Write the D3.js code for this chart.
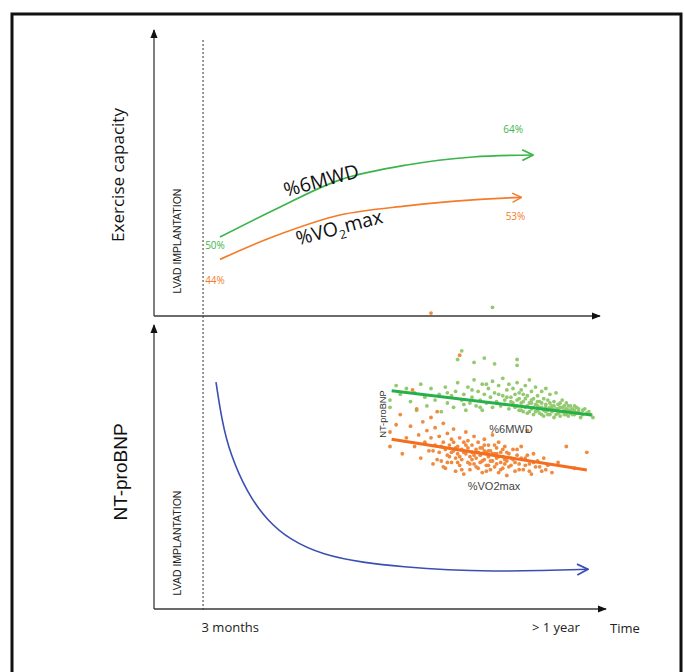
<!DOCTYPE html>
<html>
<head>
<meta charset="utf-8">
<script src="https://cdn.jsdelivr.net/npm/d3@7"></script>
<style>
  body { margin: 0; background: #fff; }
  text { font-family: "Open Sans", sans-serif; }
  .arial { font-family: "Liberation Sans", Arial, sans-serif; }
</style>
</head>
<body>
<div id="chart"></div>
<script>
// ---- data (schematic units 0-100) ----
var timeTicks = [11, 90];
var tickLabels = ["3 months", "> 1 year"];
var panelTitles = ["Exercise capacity", "NT-proBNP"];

var sixMwdCurve = [[14.8, 27.6], [28.3, 38.1], [41.7, 47.6], [56.7, 52.8], [71.5, 55.6], [85.0, 56.3]];
var vo2Curve = [[14.8, 19.8], [26.7, 27.7], [41.7, 35.3], [56.7, 38.5], [71.5, 40.6], [82.4, 41.5]];
var sixMwdPct = ["50%", "64%"];
var vo2Pct = ["44%", "53%"];

var ntCurve = [[13.9, 79.9], [15.2, 66.5], [17.0, 54.9], [20.9, 40.8], [25.3, 31.3], [30.5, 24.3],
  [37.9, 19.0], [46.9, 16.3], [56.0, 14.8], [66.0, 13.7], [76.0, 13.3], [86.5, 13.5], [97.3, 14.0]];

// inset scatter (NT-proBNP vs %6MWD / %VO2max)
var greenFit = [[0.8, 68.5], [98.4, 51.7]];
var orangeFit = [[0.8, 35.0], [96, 13.8]];
var greenDots = [
  [35, 96], [33, 90], [41, 88], [46, 91], [51, 87], [62, 90], [62, 86], [50, 126],
  [0, 62], [0, 57], [3, 72], [5, 66], [8, 70], [10, 61], [12, 67], [13, 55], [15, 73], [17, 64],
  [18, 58], [20, 70], [22, 62], [24, 66], [25, 54], [27, 71], [28, 60], [30, 65],
  [31, 57], [32, 68], [33, 74], [35, 62], [36, 66], [37, 55], [38, 71], [39, 60], [40, 64], [41, 76],
  [42, 58], [43, 68], [44, 62], [45, 73], [45, 55], [46, 66], [47, 60], [48, 70], [49, 64], [50, 57],
  [50, 75], [51, 67], [52, 61], [53, 72], [54, 58], [55, 65], [55, 77], [56, 62], [57, 69], [58, 56],
  [58, 73], [59, 64], [60, 60], [60, 70],
  [61, 66], [62, 58], [62, 74], [63, 63], [64, 55], [64, 69], [65, 61], [66, 72], [66, 57], [67, 65],
  [67, 53], [68, 60], [68, 76], [69, 68], [69, 56], [70, 63], [70, 52], [71, 59], [71, 71], [72, 55],
  [72, 65], [73, 61], [73, 53], [74, 68], [74, 57], [75, 63], [75, 51], [76, 59], [76, 70], [77, 55],
  [77, 62], [78, 52], [78, 66], [79, 58], [79, 54], [80, 61], [80, 50], [81, 56], [81, 67], [82, 53],
  [82, 59], [83, 57], [83, 51], [84, 62], [84, 54], [85, 55], [85, 58], [86, 52], [86, 60], [87, 55],
  [88, 53], [88, 58], [89, 56], [90, 52], [91, 57], [92, 54], [93, 50], [94, 55], [96, 53], [98, 52], [99, 50],
  [63, 67], [65, 54], [69, 62], [72, 58], [74, 52], [76, 54], [78, 57], [80, 55], [83, 60], [87, 51], [90, 55],
  [56, 59], [57, 64], [59, 61], [61, 57], [62, 62], [63, 55], [64, 60], [65, 66], [66, 63], [67, 58],
  [68, 54], [69, 60], [70, 57], [71, 54], [72, 61], [73, 57], [74, 60], [75, 55], [76, 57], [77, 52],
  [78, 60], [79, 56], [80, 58], [81, 52], [82, 56], [83, 54], [84, 57], [85, 52], [86, 56], [87, 58],
  [88, 55], [89, 52], [90, 58], [91, 53], [92, 56], [94, 52], [95, 56], [97, 54], [40, 69], [44, 57],
  [47, 73], [53, 66], [36, 59], [28, 67]
];
var orangeDots = [
  [34, 93], [20, 122],
  [0, 40], [0, 30], [3, 45], [5, 52], [6, 25], [8, 36], [10, 44], [11, 69], [12, 30], [13, 56], [14, 38],
  [15, 22], [16, 47], [17, 33], [18, 41], [19, 27], [20, 50], [20, 36], [21, 18], [22, 31], [22, 43],
  [23, 54], [24, 26], [24, 37], [25, 20], [26, 33], [26, 46], [27, 28], [27, 15], [28, 24], [28, 39],
  [29, 31], [30, 19], [30, 35], [31, 27], [31, 42], [32, 22], [32, 13], [33, 30], [33, 25], [34, 36],
  [34, 17], [35, 28], [35, 21], [36, 33], [36, 11], [37, 25], [37, 40], [38, 19], [38, 29], [39, 23],
  [39, 14], [40, 31], [40, 26], [41, 18], [41, 37], [42, 22], [42, 28], [43, 15], [43, 33], [44, 24],
  [44, 19], [45, 29], [45, 12], [46, 21], [46, 35], [47, 26], [47, 17], [48, 31], [48, 23], [49, 14],
  [49, 27], [50, 20], [50, 38], [51, 25], [51, 16], [52, 29], [52, 22], [53, 12], [53, 33], [54, 19],
  [54, 26], [55, 23], [55, 15], [56, 30], [57, 20], [57, 10], [58, 25], [59, 17], [60, 28], [60, 21],
  [61, 13], [62, 24], [63, 18], [64, 30], [65, 14], [66, 22], [67, 41], [68, 18], [69, 11], [70, 25],
  [71, 16], [72, 20], [74, 13], [75, 22], [77, 17], [79, 12], [82, 19], [86, 30], [90, 15], [96, 26],
  [29, 23], [33, 19], [37, 31], [41, 24], [44, 29], [48, 17], [52, 25], [56, 18], [31, 33], [46, 27],
  [21, 27], [23, 21], [25, 30], [26, 16], [28, 19], [30, 26], [32, 29], [34, 23], [35, 14], [36, 26],
  [38, 34], [39, 18], [40, 21], [42, 16], [43, 26], [45, 20], [46, 31], [47, 13], [48, 27], [49, 20],
  [50, 25], [51, 31], [52, 18], [53, 23], [54, 14], [55, 28], [56, 21], [57, 26], [58, 16], [59, 22],
  [61, 19], [62, 28], [63, 14], [64, 22], [66, 17], [67, 24], [68, 13], [70, 19], [73, 16], [76, 14]
];

// ---- layout ----
var W = 684, H = 672;
var svg = d3.select("#chart").append("svg").attr("width", W).attr("height", H);

var x = d3.scaleLinear().domain([0, 100]).range([154, 600]);
var yTop = d3.scaleLinear().domain([0, 100]).range([316, 30]);
var yBot = d3.scaleLinear().domain([0, 100]).range([609, 325]);
var xIn = d3.scaleLinear().domain([0, 100]).range([390, 595]);
var yIn = d3.scaleLinear().domain([0, 100]).range([490, 345]);

var axisCol = "#3a3a3a";
var green = "#3cb44a", orange = "#f47b2a", blue = "#3b4fb2";

var defs = svg.append("defs");
defs.append("marker")
  .attr("id", "axis-arrow")
  .attr("viewBox", "0 0 10 10")
  .attr("refX", 9).attr("refY", 5)
  .attr("markerUnits", "userSpaceOnUse")
  .attr("markerWidth", 9).attr("markerHeight", 9)
  .attr("orient", "auto")
  .append("path").attr("d", "M0,1 L10,5 L0,9 Z").attr("fill", "#111");

function chevron(id, col, size) {
  defs.append("marker")
    .attr("id", id)
    .attr("viewBox", "0 0 12 12")
    .attr("refX", 11).attr("refY", 6)
    .attr("markerUnits", "userSpaceOnUse")
    .attr("markerWidth", size).attr("markerHeight", size)
    .attr("orient", "auto")
    .append("path").attr("d", "M1,1 L11,6 L1,11")
    .attr("fill", "none").attr("stroke", col).attr("stroke-width", 1.6);
}
chevron("chev-green", green, 13);
chevron("chev-orange", orange, 11);
chevron("chev-blue", blue, 13);

// outer frame
svg.append("rect")
  .attr("x", 12).attr("y", 14).attr("width", 669).attr("height", 700)
  .attr("fill", "none").attr("stroke", "#111").attr("stroke-width", 3);

// dashed "3 months" line
svg.append("line")
  .attr("x1", x(timeTicks[0])).attr("x2", x(timeTicks[0]))
  .attr("y1", 40).attr("y2", 612)
  .attr("stroke", "#333").attr("stroke-width", 1).attr("stroke-dasharray", "2,2");

// axes with arrows
function axes(yScale, xEnd) {
  svg.append("line")
    .attr("x1", x(0)).attr("x2", x(0))
    .attr("y1", yScale(0)).attr("y2", yScale(100))
    .attr("stroke", axisCol).attr("stroke-width", 1.3)
    .attr("marker-end", "url(#axis-arrow)");
  svg.append("line")
    .attr("x1", x(0)).attr("x2", xEnd)
    .attr("y1", yScale(0)).attr("y2", yScale(0))
    .attr("stroke", axisCol).attr("stroke-width", 1.3)
    .attr("marker-end", "url(#axis-arrow)");
}
axes(yTop, 600);
axes(yBot, 606);

// time tick labels
var xAxis = d3.axisBottom(x).tickValues(timeTicks).tickSize(0)
  .tickFormat(function(d, i) { return tickLabels[i]; });
var gx = svg.append("g").attr("transform", "translate(0," + yBot(0) + ")").call(xAxis);
gx.select(".domain").remove();
gx.selectAll("text")
  .attr("dy", "1.25em")
  .attr("y", 7)
  .attr("font-size", 13)
  .attr("fill", "#222")
  .style("font-family", "'Open Sans', sans-serif")
  .attr("text-anchor", function(d, i) { return i === 0 ? "start" : "middle"; })
  .attr("dx", function(d, i) { return i === 0 ? -2 : 0; });
svg.append("text").attr("x", 610).attr("y", 633)
  .attr("font-size", 13).attr("fill", "#222").text("Time");

// panel titles
svg.append("text")
  .attr("transform", "translate(124,175) rotate(-90)")
  .attr("text-anchor", "middle")
  .attr("font-size", 17).attr("fill", "#111")
  .text(panelTitles[0]);
svg.append("text").attr("class", "arial")
  .attr("transform", "translate(127,472) rotate(-90)")
  .attr("text-anchor", "middle")
  .attr("font-size", 19).attr("fill", "#111")
  .text(panelTitles[1]);

// LVAD labels
[241, 543].forEach(function(cy) {
  svg.append("text").attr("class", "arial")
    .attr("transform", "translate(181," + cy + ") rotate(-90)")
    .attr("text-anchor", "middle")
    .attr("font-size", 10.5).attr("fill", "#222")
    .text("LVAD IMPLANTATION");
});

// ---- top panel curves ----
var lineTop = d3.line().x(function(d) { return x(d[0]); }).y(function(d) { return yTop(d[1]); })
  .curve(d3.curveCatmullRom.alpha(0.5));

svg.append("path").datum(sixMwdCurve).attr("d", lineTop)
  .attr("fill", "none").attr("stroke", green).attr("stroke-width", 1.7)
  .attr("marker-end", "url(#chev-green)");
svg.append("path").datum(vo2Curve).attr("d", lineTop)
  .attr("fill", "none").attr("stroke", orange).attr("stroke-width", 1.7)
  .attr("marker-end", "url(#chev-orange)");

function pct(pt, txt, col, dx, dy) {
  svg.append("text")
    .attr("x", x(pt[0]) + dx).attr("y", yTop(pt[1]) + dy)
    .attr("text-anchor", "middle").attr("font-size", 10).attr("fill", col)
    .text(txt);
}
pct(sixMwdCurve[0], sixMwdPct[0], green, -5, 12);
pct(sixMwdCurve[sixMwdCurve.length - 1], sixMwdPct[1], green, -20, -22);
pct(vo2Curve[0], vo2Pct[0], orange, -5, 25);
pct(vo2Curve[vo2Curve.length - 1], vo2Pct[1], orange, -6, 23);

svg.append("text")
  .attr("transform", "translate(323,187) rotate(-15)")
  .attr("text-anchor", "middle").attr("font-size", 19.5).attr("fill", "#111")
  .text("%6MWD");
var vo = svg.append("text")
  .attr("transform", "translate(341,234) rotate(-15)")
  .attr("text-anchor", "middle").attr("font-size", 19.5).attr("fill", "#111");
vo.append("tspan").text("%VO");
vo.append("tspan").attr("font-size", 12).attr("dy", 5).text("2");
vo.append("tspan").attr("dy", -5).text("max");

// ---- bottom panel ----
var lineBot = d3.line().x(function(d) { return x(d[0]); }).y(function(d) { return yBot(d[1]); })
  .curve(d3.curveBasis);
svg.append("path").datum(ntCurve).attr("d", lineBot)
  .attr("fill", "none").attr("stroke", blue).attr("stroke-width", 1.6)
  .attr("marker-end", "url(#chev-blue)");

// inset scatter
var inset = svg.append("g");
inset.selectAll("circle.g").data(greenDots).enter().append("circle")
  .attr("class", "g")
  .attr("cx", function(d) { return xIn(d[0]); })
  .attr("cy", function(d) { return yIn(d[1]); })
  .attr("r", 1.9).attr("fill", "#93c96f");
inset.selectAll("circle.o").data(orangeDots).enter().append("circle")
  .attr("class", "o")
  .attr("cx", function(d) { return xIn(d[0]); })
  .attr("cy", function(d) { return yIn(d[1]); })
  .attr("r", 1.9).attr("fill", "#f08a3e");

var lineIn = d3.line().x(function(d) { return xIn(d[0]); }).y(function(d) { return yIn(d[1]); });
inset.append("path").datum(greenFit).attr("d", lineIn)
  .attr("stroke", "#25b04a").attr("stroke-width", 3).attr("fill", "none");
inset.append("path").datum(orangeFit).attr("d", lineIn)
  .attr("stroke", "#f56d1e").attr("stroke-width", 3).attr("fill", "none");

inset.append("text").attr("class", "arial")
  .attr("transform", "translate(386,414) rotate(-90)")
  .attr("text-anchor", "middle").attr("font-size", 9.3).attr("fill", "#333")
  .text("NT-proBNP");
inset.append("text").attr("class", "arial").attr("x", 511).attr("y", 433)
  .attr("text-anchor", "middle").attr("font-size", 11).attr("fill", "#444").text("%6MWD");
inset.append("text").attr("class", "arial").attr("x", 494).attr("y", 490)
  .attr("text-anchor", "middle").attr("font-size", 11).attr("fill", "#444").text("%VO2max");
</script>
</body>
</html>
